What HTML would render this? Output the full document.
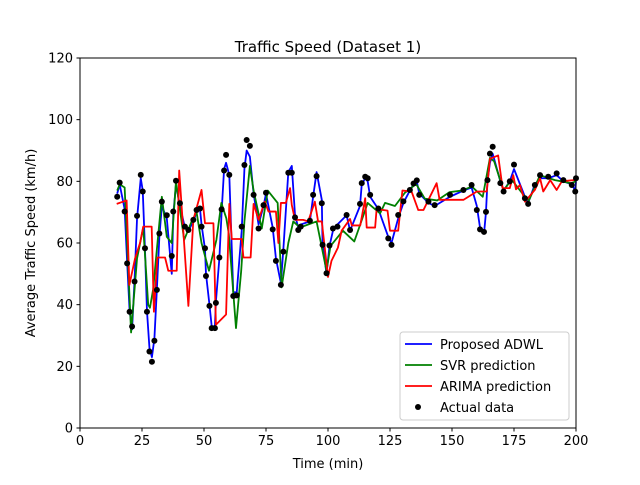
<!DOCTYPE html>
<html><head><meta charset="utf-8"><style>
body{margin:0;background:#fff;}
svg{font-family:"DejaVu Sans","Liberation Sans",sans-serif;}
</style></head><body>
<svg id="chart" width="640" height="480" xmlns="http://www.w3.org/2000/svg">
<rect width="640" height="480" fill="#fff"/>
<text x="328" y="52" font-size="15" text-anchor="middle">Traffic Speed (Dataset 1)</text>
<g id="axes"></g>
<g id="series"></g>
<rect x="80" y="58" width="496" height="370" fill="none" stroke="#000" stroke-width="1"/>
<text x="328" y="468" font-size="13" text-anchor="middle">Time (min)</text>
<text x="0" y="0" font-size="13" text-anchor="middle" transform="translate(35,243) rotate(-90)">Average Traffic Speed (km/h)</text>
<g>
<rect x="400" y="332" width="169" height="88" rx="3" fill="#fff" fill-opacity="0.8" stroke="#ccc"/>
<g><line x1="405" y1="344" x2="432" y2="344" stroke="#0000ff" stroke-width="1.8"/><text x="440" y="349" font-size="13">Proposed ADWL</text></g>
<g><line x1="405" y1="365" x2="432" y2="365" stroke="#008000" stroke-width="1.8"/><text x="440" y="370" font-size="13">SVR prediction</text></g>
<g><line x1="405" y1="386" x2="432" y2="386" stroke="#ff0000" stroke-width="1.8"/><text x="440" y="391" font-size="13">ARIMA prediction</text></g>
<g><circle cx="418" cy="407" r="3" fill="#000"/><text x="440" y="412" font-size="13">Actual data</text></g>
</g>
</svg>
<script>
const xTicks=[0,25,50,75,100,125,150,175,200];
const yTicks=[0,20,40,60,80,100,120];
const actualT=[15,16,18,19,20,21,22,23,24.5,25.3,26.2,27,28,29,30,31,32,33,35,37,37.6,38.7,40.3,42.3,43.7,45.7,47,48.4,49,50.4,50.8,52.2,53.1,54.4,54.8,56.2,57.1,58.1,58.9,60.2,61.8,63.2,65.2,66.3,67.2,68.5,70,72,74,75,77.7,79,81,82,84,85.4,86.7,88,89,92.7,94,95.4,97.5,97.8,99.4,100.6,102,103.8,107.5,108.9,112.9,113.6,115,116,117,120.3,124.3,125.6,128.3,130.4,133,134.5,135.8,136.8,140.5,143,149.2,154.6,157.9,160,161.3,162.9,163.7,164.3,165.3,166.4,169.5,170.8,173.3,175,179.4,180.7,183.4,185.5,188.8,192.2,194.9,198.3,199.7,200];
const actualV=[75,79.6,70.2,53.4,37.7,32.9,47.5,68.8,82.1,76.7,58.3,37.7,24.8,21.5,28.3,44.8,63.1,73.4,69,55.8,70.2,80.2,72.9,65.3,64.2,67.5,70.7,71.2,65.3,58.3,49.3,39.6,32.4,32.4,40.6,55.3,70.9,83.5,88.6,82.1,42.8,43,65.3,85.3,93.4,91.5,75.6,64.7,72.3,76.3,64.4,54.2,46.4,57.2,82.8,82.8,68.3,64.2,65.3,67.2,75.6,81.7,72.9,59.4,50.2,59.2,64.7,65.3,69.1,64.2,72.7,79.4,81.5,81,75.6,71.2,61.5,59.4,69.1,73.5,77.2,79.3,80.3,75.6,73.4,72.3,75.6,77.2,78.8,70.7,64.4,63.6,70.1,80.4,89,91.2,79.4,76.7,80,85.4,74.5,72.7,78.8,82,81.5,82.6,80.4,78.8,76.7,81];
const adwlV=[76,79,71,54,38,32,48,68,81,77,58,38,26,23,29,45,62,72,68,50,69,79,72,65,64,67,70,71,66,58,50,40,33,33,41,55,70,84,86,82,44,44,64,84,90,88,76,66,72,76,65,55,47,58,83,85,69,65,66,67,75,83,74,60,50,59,64,66,69,64,72,79,81,80,75,71,62,60,68,73,77,79,80,76,73,72,75,77,78,72,65,63,70,80,86,89,80,77,80,84,75,73,79,81,81,82,80,79,77,80];
const svrT=[15,16,18,19,20.6,23,25.5,27.5,28.2,29.5,31,33,35,37,38.7,42,45,47,49,52,55,57,59,60,62.9,65,66.3,68.5,70,73.3,75.7,79.7,81.3,84,86,88.7,92,95.4,99.4,101,106,110.6,113,116,121,123,127,131,135,135.8,139,144,149,154,158,162.4,165.3,167,170.8,174,179.4,181,185.5,191.5,198,200];
const svrV=[77,79,78,60,31,55,65,40,39,45,58,75,62,60,80,61,67,70,60,51,61,73,68,63,32.4,51,67,85,77,64.7,77,73,45.6,60,67,65,66,67,51,59,64,60.5,66,73,69.6,73,72,76.3,78.8,78.8,74.4,73.8,76.5,77,78.3,75,87.6,86.5,77,80.6,75,73.8,82,80.4,79.4,80];
const arimaT=[14.8,18.8,19.9,22.2,24.2,25.5,28.9,29.8,31.2,34.3,35.6,39,40,43.7,45.7,49,50.4,53.8,54.8,58.9,60.2,61.2,65.2,65.9,68.8,70,72,74.5,76,79,80,81,83,84.7,85.4,86.7,90,92,94.7,96,97.5,100,101.4,104,105.5,108.9,109.6,113,115,115.6,119,119.6,124,125,128.3,130,133.7,136.4,138.5,140.5,143.8,145,154.6,160,164,165.3,168.6,170.4,173.3,174.7,175.8,177.4,179.4,183.4,185.5,186.8,189.6,192.2,194.3,199,200];
const arimaV=[72.7,73.8,46.4,55,60,65.3,65.3,37.7,55.3,55.3,51,51,83.5,39.6,67.5,77.2,66.4,66.4,33.5,36.8,72.7,61.3,61.3,55.3,55.3,72.7,67.5,73.4,70.2,70.2,60,73,73,77.8,72.3,67.5,67.5,67,73.4,67,67,49,54.2,58.5,64,67.8,65.7,65.7,74.5,65,65,71,70.5,64,64,77,76.7,70.7,70.7,74,79.4,74,74,76.7,76.7,87.3,88.4,77.8,77.8,82,77.4,78.8,73.4,77.2,81,76.7,80.4,77.2,80,80.4,80.4];

const X0=80,X1=576,Y0=428,Y1=58;
function sx(t){return X0+(t-0)/(200-0)*(X1-X0);}
function sy(v){return Y0-(v-0)/(120-0)*(Y0-Y1);}
const NS="http://www.w3.org/2000/svg";
const axes=document.getElementById('axes');
const series=document.getElementById('series');
function mk(tag,attrs,parent){const e=document.createElementNS(NS,tag);for(const k in attrs)e.setAttribute(k,attrs[k]);parent.appendChild(e);return e;}
xTicks.forEach(v=>{
  const g=mk('g',{},axes);
  
  
  mk('line',{x1:sx(v),x2:sx(v),y1:Y0,y2:Y0+3.5,stroke:'#000'},g);
  const t=mk('text',{x:sx(v),y:Y0+17,'font-size':13,'text-anchor':'middle'},g);t.textContent=v;
});
yTicks.forEach(v=>{
  const g=mk('g',{},axes);
  
  
  mk('line',{x1:X0-3.5,x2:X0,y1:sy(v),y2:sy(v),stroke:'#000'},g);
  const t=mk('text',{x:X0-7,y:sy(v)+4.5,'font-size':13,'text-anchor':'end'},g);t.textContent=v;
});
function line(ts,vs,color,name){
  const d=ts.map((t,i)=>(i?'L':'M')+sx(t).toFixed(2)+','+sy(vs[i]).toFixed(2)).join('');
  const p=mk('path',{d:d,fill:'none',stroke:color,'stroke-width':1.8,'stroke-linejoin':'round'},series);
  
  
}
line(actualT,adwlV,'#0000ff','adwl-line');
line(svrT,svrV,'#008000','svr-line');
line(arimaT,arimaV,'#ff0000','arima-line');
actualT.forEach((t,i)=>{
  const c=mk('circle',{cx:sx(t),cy:sy(actualV[i]),r:3,fill:'#000'},series);
  
  
});
</script>
</body></html>
